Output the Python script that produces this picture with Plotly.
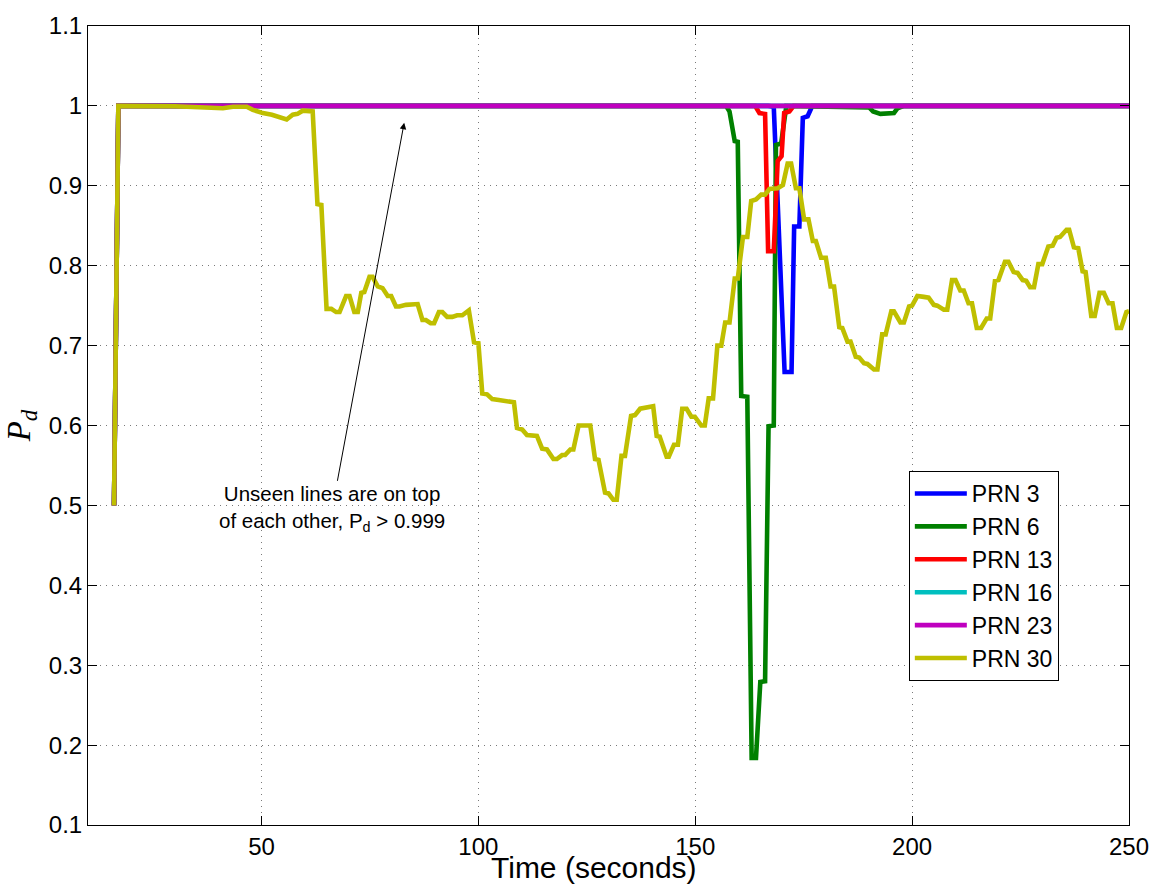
import plotly.graph_objects as go

# ---- data ----
t_prn3 = [16, 17, 166.8, 168.1, 169.4, 170.6, 172.2, 172.8, 174.0, 174.8, 175.9, 177.0, 250]
y_prn3 = [0.5, 1.0, 1.0, 0.999, 0.826, 0.667, 0.667, 0.849, 0.849, 0.985, 0.987, 1.0, 1.0]

t_prn6 = [16, 17, 157.1, 157.9, 159.1, 159.8, 160.6, 162.0, 163.0, 164.0, 165.0, 166.1,
          166.9, 168.1, 168.6, 169.8, 171.0, 190.1, 191.0, 192.7, 195.8, 196.6, 198.1, 250]
y_prn6 = [0.5, 1.0, 1.0, 0.993, 0.956, 0.955, 0.637, 0.636, 0.184, 0.184, 0.279, 0.28,
          0.599, 0.6, 0.951, 0.953, 1.0, 0.998, 0.993, 0.99, 0.991, 0.997, 1.0, 1.0]

t_prn13 = [16, 17, 163.8, 164.8, 166.1, 166.8, 168.1, 169.0, 169.9, 170.5, 171.7, 172.7, 250]
y_prn13 = [0.5, 1.0, 1.0, 0.991, 0.99, 0.818, 0.818, 0.931, 0.937, 0.991, 0.993, 1.0, 1.0]

t_prn16 = [16, 17, 250]
y_prn16 = [0.5, 1.0, 1.0]

t_prn23 = [16, 17, 250]
y_prn23 = [0.5, 1.0, 1.0]

t_prn30 = [16, 17, 30, 39, 41.1, 43.4, 46.6, 48.0, 50.3, 52.4, 53.7, 55.8, 57.2, 58.3, 59.5,
           61.8, 62.9, 63.8, 65.0, 66.1, 67.2, 68.0, 69.5, 70.3, 71.4, 72.2, 73.0, 73.7,
           74.9, 75.6, 76.8, 77.9, 79.1, 79.9, 81.0, 81.8, 83.3, 85.2, 86.0, 87.1, 87.9,
           89.0, 89.8, 90.9, 91.7, 92.8, 94.0, 95.1, 96.3, 97.8, 99.0, 100.0, 100.9, 102.0,
           103.2, 104.7, 106.3, 108.2, 108.9, 110.1, 111.2, 113.5, 114.7, 115.8, 117.3,
           118.1, 119.3, 120.0, 121.2, 121.9, 123.1, 125.8, 126.9, 127.7, 129.2, 130.0,
           131.1, 131.9, 133.0, 133.8, 135.2, 136.1, 137.3, 138.4, 139.6, 140.3, 141.1,
           141.8, 143.4, 143.9, 145.1, 146.0, 147.0, 148.0, 149.1, 149.9, 151.4, 152.2,
           153.1, 154.1, 155.1, 156.0, 156.9, 157.9, 159.1, 159.8, 161.0, 162.0, 162.9,
           164.0, 165.2, 166.1, 167.1, 169.0, 170.2, 171.3, 172.1, 173.2, 174.0, 175.1,
           176.1, 177.1, 177.8, 179.0, 180.1, 181.2, 182.0, 183.2, 183.9, 185.1, 185.8,
           187.0, 187.8, 188.9, 189.7, 191.2, 192.0, 193.1, 193.9, 195.2, 195.8, 197.3,
           198.1, 199.3, 200.0, 201.2, 202.7, 203.8, 205.0, 205.8, 207.3, 208.1, 209.2,
           210.0, 211.1, 211.9, 213.0, 213.8, 214.9, 215.9, 217.2, 218.0, 219.1, 219.9,
           221.4, 222.2, 223.4, 224.3, 225.5, 226.3, 227.2, 228.1, 229.1, 230.0, 231.4,
           232.4, 233.3, 234.1, 235.6, 236.2, 237.3, 238.3, 239.3, 240.0, 241.3, 242.1,
           243.2, 244.2, 245.3, 246.2, 247.2, 248.2, 249.4, 250.0]
y_prn30 = [0.5, 1.0, 0.9995, 0.998, 0.997, 0.999, 0.999, 0.995, 0.991, 0.989, 0.987, 0.983,
           0.989, 0.99, 0.994, 0.993, 0.877, 0.876, 0.746, 0.746, 0.742, 0.742, 0.762, 0.762,
           0.742, 0.742, 0.766, 0.767, 0.786, 0.786, 0.774, 0.772, 0.762, 0.762, 0.749,
           0.749, 0.751, 0.752, 0.752, 0.732, 0.732, 0.728, 0.728, 0.742, 0.742, 0.736,
           0.736, 0.738, 0.738, 0.744, 0.704, 0.703, 0.64, 0.639, 0.633, 0.632, 0.630,
           0.629, 0.597, 0.595, 0.588, 0.587, 0.571, 0.570, 0.558, 0.558, 0.563, 0.563,
           0.570, 0.570, 0.60, 0.60, 0.558, 0.557, 0.516, 0.515, 0.507, 0.507, 0.562,
           0.562, 0.612, 0.613, 0.621, 0.622, 0.624, 0.624, 0.587, 0.586, 0.561, 0.561,
           0.576, 0.576, 0.621, 0.621, 0.611, 0.611, 0.60, 0.60, 0.634, 0.634, 0.70, 0.70,
           0.729, 0.729, 0.784, 0.784, 0.836, 0.836, 0.881, 0.883, 0.889, 0.889, 0.896,
           0.897, 0.901, 0.928, 0.928, 0.897, 0.897, 0.858, 0.858, 0.831, 0.831, 0.81,
           0.81, 0.774, 0.774, 0.723, 0.722, 0.705, 0.705, 0.686, 0.685, 0.678, 0.677,
           0.670, 0.670, 0.714, 0.714, 0.743, 0.743, 0.729, 0.729, 0.749, 0.750, 0.762,
           0.761, 0.760, 0.751, 0.750, 0.745, 0.745, 0.782, 0.782, 0.769, 0.769, 0.753,
           0.753, 0.722, 0.722, 0.734, 0.734, 0.781, 0.782, 0.805, 0.805, 0.792, 0.791,
           0.782, 0.781, 0.773, 0.773, 0.802, 0.802, 0.824, 0.825, 0.835, 0.836, 0.845,
           0.845, 0.823, 0.822, 0.793, 0.792, 0.737, 0.737, 0.766, 0.766, 0.753, 0.753,
           0.722, 0.722, 0.742, 0.743]

series_names = ["PRN 3", "PRN 6", "PRN 13", "PRN 16", "PRN 23", "PRN 30"]
series_t = [t_prn3, t_prn6, t_prn13, t_prn16, t_prn23, t_prn30]
series_y = [y_prn3, y_prn6, y_prn13, y_prn16, y_prn23, y_prn30]
series_colors = ["#0000ff", "#008000", "#ff0000", "#00bfbf", "#bf00bf", "#bfbf00"]

x_ticks = [50, 100, 150, 200, 250]
y_ticks = [0.1, 0.2, 0.3, 0.4, 0.5, 0.6, 0.7, 0.8, 0.9, 1.0, 1.1]

FONT = "Liberation Sans, Arial, Helvetica, sans-serif"

fig = go.Figure()
for name, tt, yy, col in zip(series_names, series_t, series_y, series_colors):
    fig.add_trace(go.Scatter(x=tt, y=yy, mode="lines", name=name,
                             line=dict(color=col, width=4.6)))

axis_common = dict(showline=True, linecolor="black", linewidth=1, mirror="ticks",
                   ticks="inside", ticklen=9, tickcolor="black",
                   showgrid=True, gridcolor="#7a7a7a", gridwidth=1, griddash="1px,5px",
                   zeroline=False, tickfont=dict(family=FONT, size=24, color="black"))

fig.update_xaxes(range=[10, 250], tickvals=x_ticks, **axis_common)
fig.update_yaxes(range=[0.1, 1.1], tickvals=y_ticks,
                 ticktext=[("1" if v == 1.0 else f"{v:g}") for v in y_ticks],
                 title=dict(text="<i>P<sub>d</sub></i>",
                            font=dict(family="Liberation Serif, Times New Roman, serif", size=33,
                                      color="black"), standoff=8),
                 **axis_common)

# x-axis label (placed as in the reference)
fig.add_annotation(x=0.4856, y=-0.0745, xref="paper", yref="paper",
                   text="Time (seconds)", showarrow=False, xanchor="center", yanchor="bottom",
                   borderpad=0, font=dict(family=FONT, size=30, color="black"))

fig.add_annotation(x=82.9, y=0.979, ax=66.3, ay=0.4957, xref="x", yref="y",
                   axref="x", ayref="y",
                   text="Unseen lines are on top<br>of each other, P<sub>d</sub> > 0.999",
                   showarrow=True, arrowhead=2, arrowsize=1.3, arrowwidth=1, arrowcolor="black",
                   font=dict(family=FONT, size=20.5, color="black"), align="center")

fig.update_layout(
    width=1161, height=886,
    margin=dict(l=88, r=27, t=20, b=61),
    plot_bgcolor="white", paper_bgcolor="white",
    showlegend=True,
    legend=dict(x=0.7885, y=0.443, xanchor="left", yanchor="top",
                bgcolor="white", bordercolor="black", borderwidth=1,
                itemwidth=52,
                font=dict(family=FONT, size=23, color="black")),
)

fig.write_html("out.html")
